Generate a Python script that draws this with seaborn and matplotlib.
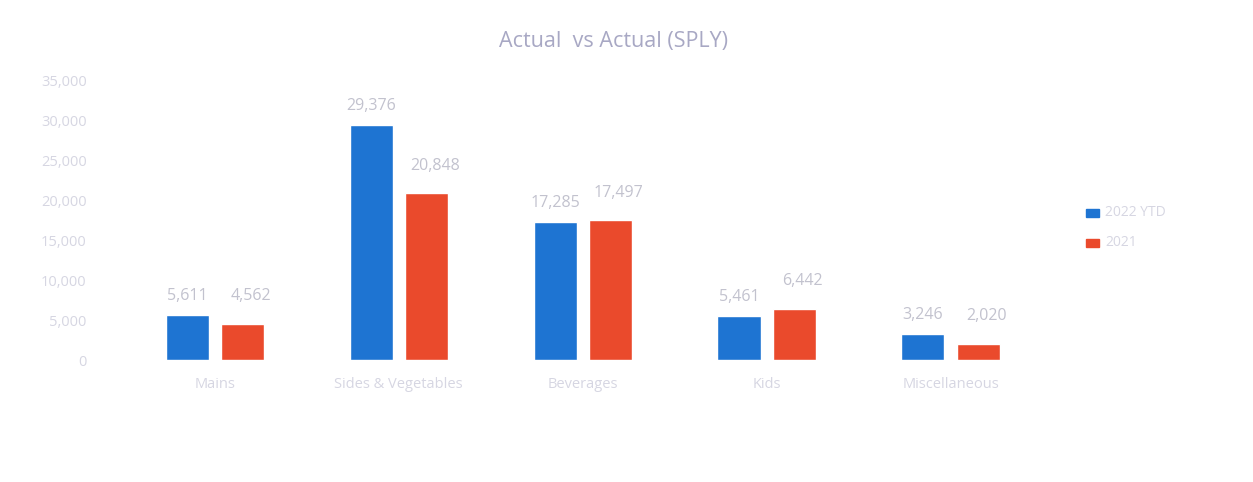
import matplotlib
matplotlib.use("Agg")
import matplotlib.pyplot as plt
import matplotlib.ticker as mticker
import seaborn as sns
import pandas as pd

categories = ["Mains", "Sides & Vegetables", "Beverages", "Kids", "Miscellaneous"]
series_names = ["2022 YTD", "2021"]
actual = [5611, 29376, 17285, 5461, 3246]
actual_sply = [4562, 20848, 17497, 6442, 2020]
y_ticks = [0, 5000, 10000, 15000, 20000, 25000, 30000, 35000]

palette = ["#1E74D2", "#EA4A2C"]
tick_col = "#D6D6E2"
label_col = "#C2C2CE"
title_col = "#A8A8C4"

df = pd.DataFrame({
    "category": categories * 2,
    "series": [series_names[0]] * len(categories) + [series_names[1]] * len(categories),
    "value": actual + actual_sply,
})

sns.set_theme(style="white")
plt.rcParams["font.family"] = ["Open Sans", "DejaVu Sans"]

fig = plt.figure(figsize=(12.53, 4.82), dpi=100)
ax = fig.add_axes([0.098, 0.253, 0.734, 0.581])

sns.barplot(data=df, x="category", y="value", hue="series", palette=palette,
            width=0.6, gap=0.22, ax=ax, legend=False, saturation=1)

ax.set_ylim(0, 35000)
ax.set_yticks(y_ticks)
ax.yaxis.set_major_formatter(mticker.FuncFormatter(lambda v, p: f"{int(v):,}"))
ax.tick_params(axis="both", length=0, colors=tick_col, labelsize=10.5)
ax.tick_params(axis="x", pad=12)
ax.tick_params(axis="y", pad=26)
ax.set_xlabel("")
ax.set_ylabel("")
for s in ax.spines.values():
    s.set_visible(False)

# value labels above each bar
for cont, dx, dy in zip(ax.containers, [0, 6], [8, 14]):
    for bar in cont:
        h = bar.get_height()
        ax.annotate(f"{int(h):,}", (bar.get_x() + bar.get_width() / 2, h),
                    xytext=(dx, dy), textcoords="offset points",
                    ha="center", va="bottom", fontsize=11.5, color=label_col)

fig.text(0.49, 0.913, "Actual  vs Actual (SPLY)", ha="center", va="center",
         fontsize=15.5, color=title_col)

# legend
for i, (name, col) in enumerate(zip(series_names, palette)):
    yy = 1 - (213 + 30 * i) / 482
    fig.patches.append(plt.Rectangle((0.8665, yy - 0.009), 0.0105, 0.018,
                                     transform=fig.transFigure, color=col))
    fig.text(0.882, yy, name, ha="left", va="center", fontsize=10, color=tick_col)

fig.savefig("out.png", dpi=100, facecolor="white")
